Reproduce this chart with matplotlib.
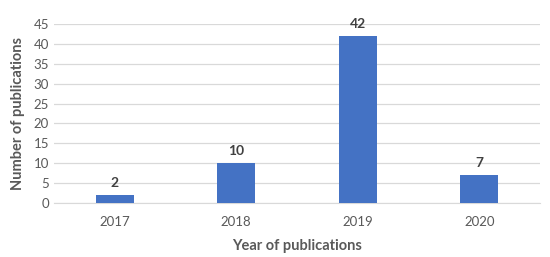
import matplotlib.pyplot as plt

years = ['2017', '2018', '2019', '2020']
counts = [2, 10, 42, 7]

plt.rcParams['font.family'] = ['Lato', 'DejaVu Sans']

fig = plt.figure(figsize=(5.5, 2.57), dpi=100)
ax = fig.add_axes([0.098, 0.210, 0.884, 0.697])

x = range(len(years))
bars = ax.bar(x, counts, width=0.31, color='#4472C4', zorder=3)
for xi, c in zip(x, counts):
    ax.text(xi, c + 1.5, str(c), ha='center', va='bottom',
            fontsize=10, fontweight='bold', color='#404040')

ax.set_xlim(-0.5, len(years) - 0.5)
ax.set_ylim(0, 45)
ax.set_yticks(range(0, 46, 5))
ax.set_xticks(list(x))
ax.set_xticklabels(years)
ax.grid(axis='y', color='#D9D9D9', linewidth=0.9, zorder=0)
for s in ['top', 'right', 'left']:
    ax.spines[s].set_visible(False)
ax.spines['bottom'].set_color('#D9D9D9')
ax.tick_params(axis='both', length=0, labelsize=9.5, labelcolor='#595959')
ax.tick_params(axis='x', pad=9)
ax.set_xlabel('Year of publications', fontsize=10.5, fontweight='bold',
              color='#595959', labelpad=8)
ax.set_ylabel('Number of publications', fontsize=10.5, fontweight='bold',
              color='#595959', labelpad=6)

fig.savefig('out.png', dpi=100)
